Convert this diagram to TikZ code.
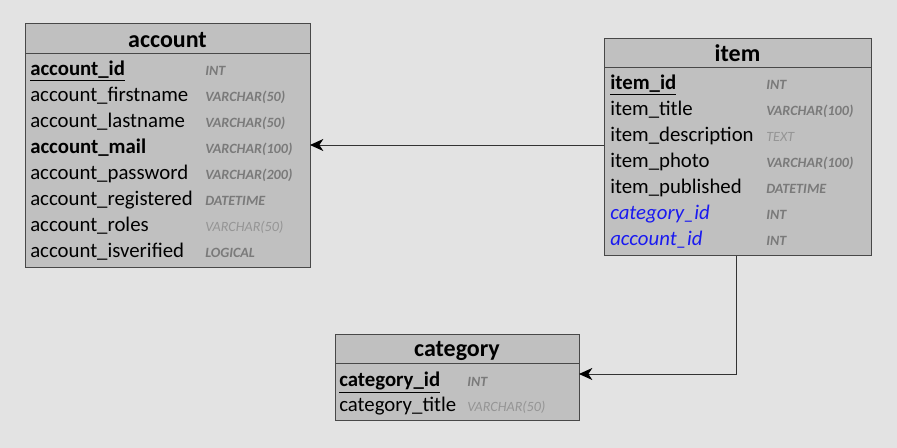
\documentclass[tikz,border=0pt]{standalone}
\usepackage{fontspec}
\setmainfont{Carlito}
\usetikzlibrary{arrows.meta}
\definecolor{bgcol}{HTML}{E3E3E3}
\definecolor{boxfill}{HTML}{C0C0C0}
\definecolor{bordercol}{HTML}{484848}
\definecolor{typegray}{HTML}{7A7A7A}
\definecolor{typelight}{HTML}{959595}
\definecolor{fkblue}{HTML}{1A1AF0}
\tikzset{
  tbl/.style={draw=bordercol, fill=boxfill, line width=0.75pt, inner sep=0pt, outer sep=0pt},
  hline/.style={draw=bordercol, line width=0.75pt},
  hdr/.style={font=\fontsize{18}{18}\selectfont\bfseries, anchor=base, inner sep=0pt},
  fld/.style={font=\fontsize{15.6}{15.6}\selectfont, anchor=base west, inner sep=0pt},
  pkfld/.style={font=\fontsize{15.6}{15.6}\selectfont\bfseries, anchor=base west, inner sep=0pt},
  fkfld/.style={font=\fontsize{15.6}{15.6}\selectfont\itshape, text=fkblue, anchor=base west, inner sep=0pt},
  typ/.style={font=\fontsize{10.6}{10.6}\selectfont\bfseries\itshape, text=typegray, anchor=base west, inner sep=0pt},
  typl/.style={font=\fontsize{10.6}{10.6}\selectfont\itshape, text=typelight, anchor=base west, inner sep=0pt},
  conn/.style={draw=black!80, line width=0.7pt, -{Stealth[length=10pt,width=9pt,inset=3pt,color=black]}}
}
\begin{document}
\begin{tikzpicture}[x=0.75pt,y=-0.75pt]
\path[fill=bgcol] (0,0) rectangle (897,448);
\useasboundingbox (0,0) rectangle (897,448);
% account
\node[tbl, minimum width=213.75pt, minimum height=183pt] (account) at (167.5,146) {};
\draw[hline] (account.west |- 0,54) -- (account.east |- 0,54);
\node[hdr] (accounthdr) at (167.5,48) {account};
\node[pkfld] (a1) at (30,76) {\underline{account\_id}};
\node[fld] (a2) at (30,102) {account\_firstname};
\node[fld] (a3) at (30,128) {account\_lastname};
\node[pkfld] (a4) at (30,154) {account\_mail};
\node[fld] (a5) at (30,180) {account\_password};
\node[fld] (a6) at (30,206) {account\_registered};
\node[fld] (a7) at (30,232) {account\_roles};
\node[fld] (a8) at (30,258) {account\_isverified};
\node[typ] (at1) at (205,76) {INT};
\node[typ] (at2) at (205,102) {VARCHAR(50)};
\node[typ] (at3) at (205,128) {VARCHAR(50)};
\node[typ] (at4) at (205,154) {VARCHAR(100)};
\node[typ] (at5) at (205,180) {VARCHAR(200)};
\node[typ] (at6) at (205,206) {DATETIME};
\node[typl] (at7) at (205,232) {VARCHAR(50)};
\node[typ] (at8) at (205,258) {LOGICAL};
% item
\node[tbl, minimum width=200.25pt, minimum height=162.75pt] (item) at (737.5,147.5) {};
\draw[hline] (item.west |- 0,68) -- (item.east |- 0,68);
\node[hdr] (itemhdr) at (737.5,62) {item};
\node[pkfld] (i1) at (610,90) {\underline{item\_id}};
\node[fld] (i2) at (610,116) {item\_title};
\node[fld] (i3) at (610,142) {item\_description};
\node[fld] (i4) at (610,168) {item\_photo};
\node[fld] (i5) at (610,194) {item\_published};
\node[fkfld] (i6) at (610,220) {category\_id};
\node[fkfld] (i7) at (610,246) {account\_id};
\node[typ] (it1) at (766,90) {INT};
\node[typ] (it2) at (766,116) {VARCHAR(100)};
\node[typl] (it3) at (766,142) {TEXT};
\node[typ] (it4) at (766,168) {VARCHAR(100)};
\node[typ] (it5) at (766,194) {DATETIME};
\node[typ] (it6) at (766,220) {INT};
\node[typ] (it7) at (766,246) {INT};
% category
\node[tbl, minimum width=183pt, minimum height=64.5pt] (category) at (457,378) {};
\draw[hline] (category.west |- 0,364) -- (category.east |- 0,364);
\node[hdr] (cathdr) at (457,357) {category};
\node[pkfld] (c1) at (339,387) {\underline{category\_id}};
\node[fld] (c2) at (339,412) {category\_title};
\node[typ] (ct1) at (467,387) {INT};
\node[typl] (ct2) at (467,412) {VARCHAR(50)};
% connectors
\coordinate (r1) at (0,145);
\coordinate (r2) at (736,374);
\draw[conn] (item.west |- r1) -- (account.east |- r1);
\draw[conn] (item.south -| r2) -- (r2) -- (category.east |- r2);
\end{tikzpicture}
\end{document}
